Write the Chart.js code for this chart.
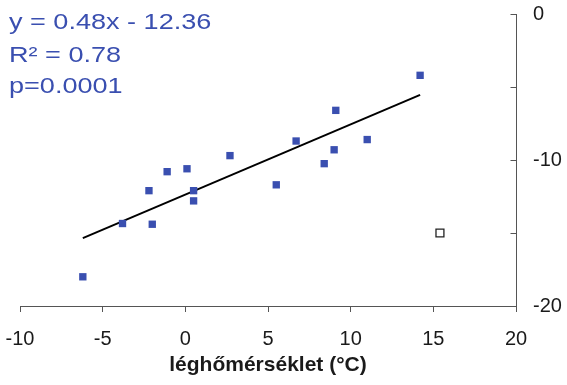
<!DOCTYPE html>
<html>
<head>
<meta charset="utf-8">
<script src="https://cdn.jsdelivr.net/npm/chart.js@4/dist/chart.umd.min.js"></script>
<style>
  html, body { margin: 0; padding: 0; background: #fff; }
  #wrap { width: 567px; height: 385px; position: relative; }
</style>
</head>
<body>
<div id="wrap"><canvas id="c" width="567" height="385"></canvas></div>
<script>
// Data
const tempX = [-6.2, -3.8, -2.2, -2.0, -1.1, 0.1, 0.5, 0.5, 2.7, 5.5, 6.7, 8.4, 9.0, 9.1, 11.0, 14.2];
const valueY = [-18.0, -14.35, -12.1, -14.4, -10.8, -10.6, -12.1, -12.8, -9.7, -11.7, -8.7, -10.25, -9.3, -6.6, -8.6, -4.2];
const outlierX = [15.4];
const outlierY = [-15.0];
const trendX = [-6.2, 14.2];
const trendY = [-15.35, -5.54];
const xTicks = [-10, -5, 0, 5, 10, 15, 20];
const yTicks = [0, -5, -10, -15, -20];
const yLabelled = [0, -10, -20];
const statLines = ['y = 0.48x - 12.36', 'R\u00B2 = 0.78', 'p=0.0001'];
const xTitle = 'léghőmérséklet (°C)';

const FONT = "'Liberation Sans', Arial, Helvetica, sans-serif";
const BLUE = '#3a4fb0';
const AXIS = '#555555';

const toPts = (xs, ys) => xs.map((x, i) => ({ x: x, y: ys[i] }));

const innerYTicks = {
  id: 'innerYTicks',
  afterDraw(chart) {
    const ys = chart.scales.y;
    const ctx = chart.ctx;
    const xr = Math.round(chart.chartArea.right) + 0.5;
    ctx.save();
    ctx.strokeStyle = AXIS;
    ctx.lineWidth = 1;
    yTicks.forEach(v => {
      const py = Math.round(ys.getPixelForValue(v)) + 0.5;
      ctx.beginPath();
      ctx.moveTo(xr, py);
      ctx.lineTo(xr - 6, py);
      ctx.stroke();
    });
    ctx.restore();
  }
};

const statsText = {
  id: 'statsText',
  afterDraw(chart) {
    const ctx = chart.ctx;
    ctx.save();
    ctx.fillStyle = BLUE;
    ctx.font = '22px ' + FONT;
    ctx.textBaseline = 'alphabetic';
    ctx.textAlign = 'left';
    const sx = 1.23;
    ctx.scale(sx, 1);
    const baselines = [28.5, 61.5, 93];
    statLines.forEach((t, i) => ctx.fillText(t, 9 / sx, baselines[i]));
    ctx.restore();
  }
};

new Chart(document.getElementById('c'), {
  type: 'scatter',
  data: {
    datasets: [
      {
        label: 'trend',
        type: 'line',
        data: toPts(trendX, trendY),
        borderColor: '#000',
        borderWidth: 2,
        pointRadius: 0,
        fill: false,
        order: 2
      },
      {
        label: 'data',
        data: toPts(tempX, valueY),
        pointStyle: 'rect',
        pointRadius: 5.2,
        pointBackgroundColor: BLUE,
        pointBorderColor: BLUE,
        pointBorderWidth: 0,
        order: 1
      },
      {
        label: 'outlier',
        data: toPts(outlierX, outlierY),
        pointStyle: 'rect',
        pointRadius: 5.6,
        pointBackgroundColor: '#fff',
        pointBorderColor: '#222',
        pointBorderWidth: 1.3,
        order: 0
      }
    ]
  },
  options: {
    responsive: false,
    animation: false,
    layout: { padding: { left: 20, top: 14, right: 0, bottom: 0 } },
    plugins: { legend: { display: false }, tooltip: { enabled: false }, title: { display: false } },
    scales: {
      x: {
        type: 'linear',
        position: 'bottom',
        min: -10, max: 20,
        afterBuildTicks: s => { s.ticks = xTicks.map(v => ({ value: v })); },
        afterFit: s => { s.height = 79; s.paddingLeft = 0; s.paddingRight = 0; },
        grid: { drawOnChartArea: false, drawTicks: true, tickLength: 6, color: AXIS },
        border: { display: true, color: AXIS, width: 1 },
        ticks: { color: '#1a1a1a', font: { family: FONT, size: 20 }, padding: 15, maxRotation: 0 },
        title: {
          display: true, text: xTitle, color: '#1a1a1a',
          font: { family: FONT, size: 21, weight: 'bold' },
          padding: { top: 0, bottom: 7 }
        }
      },
      y: {
        type: 'linear',
        position: 'right',
        min: -20, max: 0,
        afterBuildTicks: s => { s.ticks = yTicks.map(v => ({ value: v })); },
        afterFit: s => { s.width = 51; s.paddingTop = 0; s.paddingBottom = 0; },
        grid: { drawOnChartArea: false, drawTicks: false },
        border: { display: true, color: AXIS, width: 1 },
        ticks: {
          color: '#1a1a1a', font: { family: FONT, size: 20 }, padding: 17,
          callback: v => (yLabelled.includes(v) ? String(v) : '')
        }
      }
    }
  },
  plugins: [innerYTicks, statsText]
});
</script>
</body>
</html>
